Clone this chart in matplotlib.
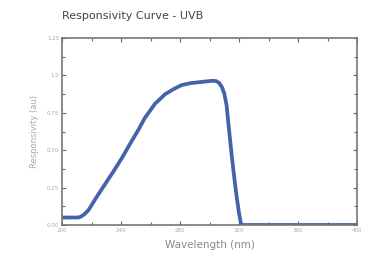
import numpy as np
import matplotlib.pyplot as plt

# --- data ---
wavelength = [200, 205, 210, 212, 215, 218, 223, 229, 235, 240.5, 247, 252, 256, 263,
              270, 276, 281, 287, 292.5, 298, 302, 304.5, 306.5, 308.5, 310, 311.6, 313,
              315, 317, 318.4, 320, 321.5, 330, 350, 370, 400]
response = [0.05, 0.05, 0.05, 0.052, 0.07, 0.10, 0.18, 0.27, 0.36, 0.446, 0.557, 0.64,
            0.713, 0.81, 0.875, 0.91, 0.935, 0.948, 0.954, 0.96, 0.964, 0.962, 0.95,
            0.92, 0.88, 0.80, 0.66, 0.47, 0.30, 0.19, 0.08, 0.0, 0.0, 0.0, 0.0, 0.0]

xticks = [200, 240, 280, 320, 360, 400]
yticks = [0.0, 0.25, 0.5, 0.75, 1.0, 1.25]
ytick_labels = ["0.00", "0.25", "0.50", "0.75", "1.0", "1.25"]

fig = plt.figure(figsize=(3.74, 2.69), dpi=100)
ax = fig.add_axes([62 / 374, 1 - 225 / 269, 295 / 374, 187 / 269])

ax.plot(wavelength, response, color="#4463a8", lw=2.7, solid_capstyle="round",
        solid_joinstyle="round")

ax.set_xlim(200, 400)
ax.set_ylim(0, 1.25)
ax.set_xticks(xticks)
ax.set_xticks(np.arange(200, 401, 20), minor=True)
ax.set_yticks(yticks)
ax.set_yticklabels(ytick_labels)
ax.set_yticks(np.arange(0, 1.26, 0.125), minor=True)

ax.tick_params(which="both", direction="in", top=True, right=True, colors="#666666",
               labelcolor="#aaaaaa", labelsize=4, width=0.8, pad=2)
ax.tick_params(which="major", length=3)
ax.tick_params(which="minor", length=2)
for s in ax.spines.values():
    s.set_color("#777777")
    s.set_linewidth(1.2)

ax.set_xlabel("Wavelength (nm)", fontsize=7.5, color="#888888", labelpad=5)
ax.set_ylabel("Responsivity (au)", fontsize=6, color="#aaaaaa", labelpad=6)
fig.text(62 / 374, 1 - 16 / 269, "Responsivity Curve - UVB", fontsize=8,
         color="#444444", va="center", ha="left")

plt.savefig("out.png", dpi=100)
